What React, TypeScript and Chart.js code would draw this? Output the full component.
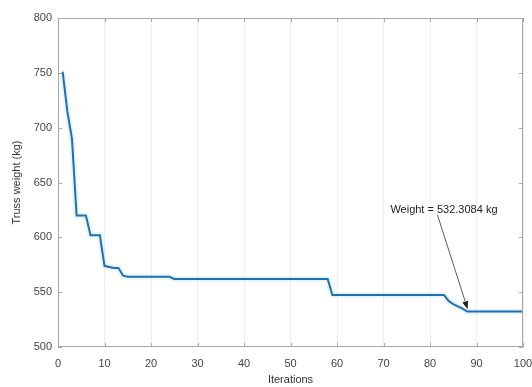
import React, { useEffect, useRef } from "react";
import { Chart, registerables } from "chart.js";

Chart.register(...registerables);

// Truss weight per iteration (iterations 1..100)
const weights: number[] = [
  751, 715, 690, 620, 620, 620, 602, 602, 602, 574,
  573, 572, 572, 565, 564, 564, 564, 564, 564, 564,
  564, 564, 564, 564, 562, 562, 562, 562, 562, 562,
  562, 562, 562, 562, 562, 562, 562, 562, 562, 562,
  562, 562, 562, 562, 562, 562, 562, 562, 562, 562,
  562, 562, 562, 562, 562, 562, 562, 562, 547.5, 547.5,
  547.5, 547.5, 547.5, 547.5, 547.5, 547.5, 547.5, 547.5, 547.5, 547.5,
  547.5, 547.5, 547.5, 547.5, 547.5, 547.5, 547.5, 547.5, 547.5, 547.5,
  547.5, 547.5, 547.5, 542, 539, 537, 535, 532.3084, 532.3084, 532.3084,
  532.3084, 532.3084, 532.3084, 532.3084, 532.3084, 532.3084, 532.3084, 532.3084, 532.3084, 532.3084,
];

const xTicks = [0, 10, 20, 30, 40, 50, 60, 70, 80, 90, 100];
const yTicks = [500, 550, 600, 650, 700, 750, 800];

const annotationText = "Weight = 532.3084 kg";
const annotationTextPos = { x: 83, y: 625 };
const annotationTail = { x: 81.6, y: 620.5 };
const annotationHead = { x: 88.1, y: 534.5 };

const FONT = "'Liberation Sans', Arial, sans-serif";

const framePlugin = {
  id: "frame",
  afterDatasetsDraw(chart: any) {
    const { ctx, chartArea } = chart;
    const xs = chart.scales.x;
    const ys = chart.scales.y;
    const { left, right, top, bottom } = chartArea;
    ctx.save();
    ctx.strokeStyle = "#a8a8a8";
    ctx.lineWidth = 1;
    ctx.strokeRect(left + 0.5, top + 0.5, right - left - 1, bottom - top - 1);
    ctx.beginPath();
    const tl = 4;
    xTicks.forEach((v) => {
      const px = Math.round(xs.getPixelForValue(v)) + 0.5;
      ctx.moveTo(px, bottom);
      ctx.lineTo(px, bottom - tl);
      ctx.moveTo(px, top);
      ctx.lineTo(px, top + tl);
    });
    yTicks.forEach((v) => {
      const py = Math.round(ys.getPixelForValue(v)) + 0.5;
      ctx.moveTo(left, py);
      ctx.lineTo(left + tl, py);
      ctx.moveTo(right, py);
      ctx.lineTo(right - tl, py);
    });
    ctx.stroke();

    // annotation (text arrow)
    const tx = xs.getPixelForValue(annotationTextPos.x);
    const ty = ys.getPixelForValue(annotationTextPos.y);
    ctx.fillStyle = "#222";
    ctx.font = `11px ${FONT}`;
    ctx.textAlign = "center";
    ctx.textBaseline = "middle";
    ctx.fillText(annotationText, tx, ty);

    const x0 = xs.getPixelForValue(annotationTail.x);
    const y0 = ys.getPixelForValue(annotationTail.y);
    const x1 = xs.getPixelForValue(annotationHead.x);
    const y1 = ys.getPixelForValue(annotationHead.y);
    const ang = Math.atan2(y1 - y0, x1 - x0);
    const hl = 8;
    const hw = 3;
    ctx.strokeStyle = "#333";
    ctx.lineWidth = 0.8;
    ctx.beginPath();
    ctx.moveTo(x0, y0);
    ctx.lineTo(x1 - hl * Math.cos(ang), y1 - hl * Math.sin(ang));
    ctx.stroke();
    ctx.fillStyle = "#222";
    ctx.beginPath();
    ctx.moveTo(x1, y1);
    ctx.lineTo(
      x1 - hl * Math.cos(ang) + hw * Math.sin(ang),
      y1 - hl * Math.sin(ang) - hw * Math.cos(ang)
    );
    ctx.lineTo(
      x1 - hl * Math.cos(ang) - hw * Math.sin(ang),
      y1 - hl * Math.sin(ang) + hw * Math.cos(ang)
    );
    ctx.closePath();
    ctx.fill();
    ctx.restore();
  },
};

export default function App() {
  const canvasRef = useRef<HTMLCanvasElement | null>(null);

  useEffect(() => {
    const canvas = canvasRef.current;
    if (!canvas) return;
    const points = weights.map((w, i) => ({ x: i + 1, y: w }));
    const chart = new Chart(canvas, {
      type: "line",
      data: {
        datasets: [
          {
            data: points,
            borderColor: "#1f6fb5",
            borderWidth: 2,
            pointRadius: 0,
            tension: 0,
            fill: false,
          },
          {
            data: points,
            borderColor: "rgba(120,190,235,0.16)",
            borderWidth: 6,
            pointRadius: 0,
            tension: 0,
            fill: false,
          },
        ],
      },
      options: {
        responsive: false,
        animation: false,
        events: [],
        layout: {
          autoPadding: false,
          padding: { top: 18, right: 9, left: 0, bottom: 0 },
        },
        plugins: {
          legend: { display: false },
          tooltip: { enabled: false },
          title: { display: false },
        },
        scales: {
          x: {
            type: "linear",
            min: 0,
            max: 100,
            afterFit: (s: any) => {
              s.height = 40;
              s.paddingLeft = 0;
              s.paddingRight = 0;
            },
            afterBuildTicks: (s: any) => {
              s.ticks = xTicks.map((v) => ({ value: v }));
            },
            border: { display: false },
            grid: {
              color: "rgba(0,0,0,0.07)",
              drawTicks: false,
              lineWidth: 1,
            },
            ticks: {
              padding: 10,
              color: "#444",
              font: { family: FONT, size: 11 },
              maxRotation: 0,
              autoSkip: false,
            },
            title: {
              display: true,
              text: "Iterations",
              color: "#333",
              font: { family: FONT, size: 11 },
              padding: { top: 0, bottom: 0 },
            },
          },
          y: {
            type: "linear",
            min: 500,
            max: 800,
            afterFit: (s: any) => {
              s.width = 58;
              s.paddingTop = 0;
              s.paddingBottom = 0;
            },
            afterBuildTicks: (s: any) => {
              s.ticks = yTicks.map((v) => ({ value: v }));
            },
            border: { display: false },
            grid: { display: false, drawTicks: false },
            ticks: {
              padding: 6,
              color: "#444",
              font: { family: FONT, size: 11 },
            },
            title: {
              display: true,
              text: "Truss weight (kg)",
              color: "#333",
              font: { family: FONT, size: 11 },
              padding: { top: 10, bottom: 0 },
            },
          },
        },
      },
      plugins: [framePlugin],
    });
    return () => chart.destroy();
  }, []);

  return (
    <div
      style={{
        position: "absolute",
        left: 0,
        top: 0,
        width: 532,
        height: 387,
        background: "#fff",
      }}
    >
      <canvas ref={canvasRef} width={532} height={387} />
    </div>
  );
}
